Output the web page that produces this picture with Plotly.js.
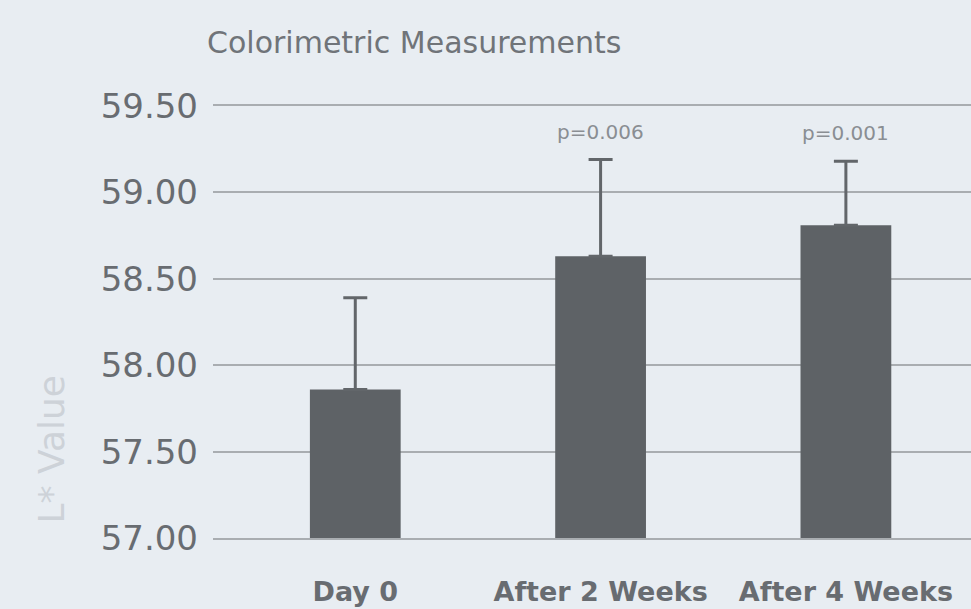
<!DOCTYPE html>
<html>
<head>
<meta charset="utf-8">
<script src="https://cdn.plot.ly/plotly-3.0.1.min.js"></script>
<style>html,body{margin:0;padding:0;background:#e8edf2;}#chart{width:971px;height:609px;}</style>
</head>
<body>
<div id="chart"></div>
<script>
const categories = ["Day 0", "After 2 Weeks", "After 4 Weeks"];
const meanValues = [57.86, 58.63, 58.81];
const errorPlus = [0.53, 0.56, 0.37];
const pLabels = ["", "p=0.006", "p=0.001"];
const yTicks = [57.0, 57.5, 58.0, 58.5, 59.0, 59.5];
const yTickText = ["57.00", "57.50", "58.00", "58.50", "59.00", "59.50"];

const FONT = "DejaVu Sans, Verdana, sans-serif";
const textColor = "#686c71";
const barColor = "#5e6266";
const gridColor = "#a9adb1";

const trace = {
  type: "bar",
  x: categories,
  y: meanValues,
  width: 0.37,
  marker: {color: barColor, line: {width: 0}},
  error_y: {type: "data", symmetric: false, array: errorPlus, arrayminus: [0,0,0], color: "#62666a", thickness: 3, width: 12},
  hoverinfo: "none"
};

const annotations = categories.map((c, i) => ({
  x: c, y: meanValues[i] + errorPlus[i], xref: "x", yref: "y",
  text: pLabels[i], showarrow: false, yanchor: "bottom", yshift: 14,
  font: {family: FONT, size: 20, color: "#8a8e93"}
})).filter(a => a.text);

annotations.push({
  text: "L* Value", xref: "paper", yref: "paper", x: -162/758, y: 0.205,
  xanchor: "center", yanchor: "middle", textangle: -90, showarrow: false,
  font: {family: FONT, size: 36, color: "#cdd2d8"}
});

const layout = {
  width: 971, height: 609,
  paper_bgcolor: "#e8edf2", plot_bgcolor: "#e8edf2",
  margin: {l: 213, r: 0, t: 106, b: 71},
  showlegend: false,
  title: {text: "Colorimetric Measurements", x: 207/971, xref: "container", xanchor: "left",
          y: 1 - 42/609, yref: "container", yanchor: "middle",
          font: {family: FONT, size: 30, color: "#707479"}},
  xaxis: {type: "category", range: [-0.58, 2.51], showgrid: false, zeroline: false,
          showline: true, mirror: true, linecolor: gridColor, linewidth: 2,
          ticks: "", ticklabelstandoff: 29,
          tickfont: {family: FONT, size: 27, color: textColor, weight: "bold"}},
  yaxis: {range: [57, 59.5], tickvals: yTicks, ticktext: yTickText, showgrid: true,
          gridcolor: gridColor, gridwidth: 2, zeroline: false, showline: false, ticks: "",
          ticklabelstandoff: 14,
          tickfont: {family: FONT, size: 34, color: textColor}},
  annotations: annotations,
  bargap: 0.6
};

Plotly.newPlot("chart", [trace], layout, {displayModeBar: false, staticPlot: true});
</script>
</body>
</html>
